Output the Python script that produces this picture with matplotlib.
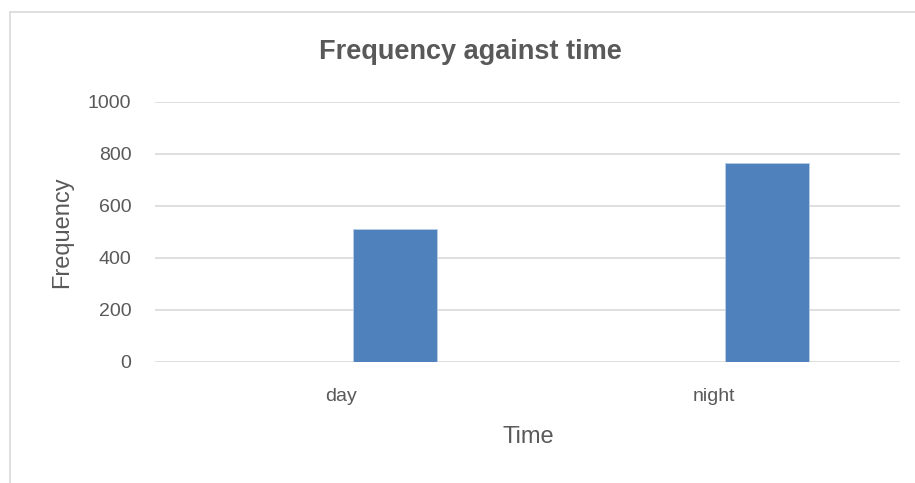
import numpy as np
import matplotlib
matplotlib.use("Agg")
import matplotlib.pyplot as plt
from matplotlib.patches import Rectangle

categories = ["day", "night"]
frequency = [510, 764]
y_ticks = [0, 200, 400, 600, 800, 1000]

plt.rcParams['font.family'] = ['Liberation Sans', 'DejaVu Sans']
grey = '#595959'

fig = plt.figure(figsize=(9.15, 4.83), dpi=100)
fig.patches.append(Rectangle((10 / 915, -0.1), 1.2, 1 - 12 / 483 + 0.1,
                             transform=fig.transFigure, fill=False,
                             edgecolor='#d9d9d9', linewidth=1.2))
ax = fig.add_axes([155 / 915, 1 - 362 / 483, 745 / 915, 260 / 483])

# columns sit right of the category centre, like an excel cluster with an empty series
x = np.arange(len(categories))
ax.bar(x + 0.144, frequency, width=0.2255, color='#4f81bd',
       edgecolor='#b9cde5', linewidth=0.6, zorder=3)

ax.set_xlim(-0.5, len(categories) - 0.5)
ax.set_ylim(0, 1000)
ax.set_yticks(y_ticks)
ax.set_xticks(x)
ax.set_xticklabels(categories)
ax.grid(axis='y', color='#d9d9d9', linewidth=1.2, zorder=0)
ax.tick_params(axis='both', length=0, colors=grey, labelsize=14)
ax.tick_params(axis='y', pad=17)
ax.tick_params(axis='x', pad=19)
for s in ax.spines.values():
    s.set_visible(False)

fig.text(470 / 915, 1 - 52 / 483, 'Frequency against time', ha='center', va='center',
         fontsize=19.5, fontweight='bold', color=grey)
fig.text(528 / 915, 1 - 437 / 483, 'Time', ha='center', va='center',
         fontsize=17, color=grey)
fig.text(62 / 915, 1 - 232 / 483, 'Frequency', ha='center', va='center',
         rotation=90, fontsize=17, color=grey)

fig.savefig('out.png', dpi=100)
